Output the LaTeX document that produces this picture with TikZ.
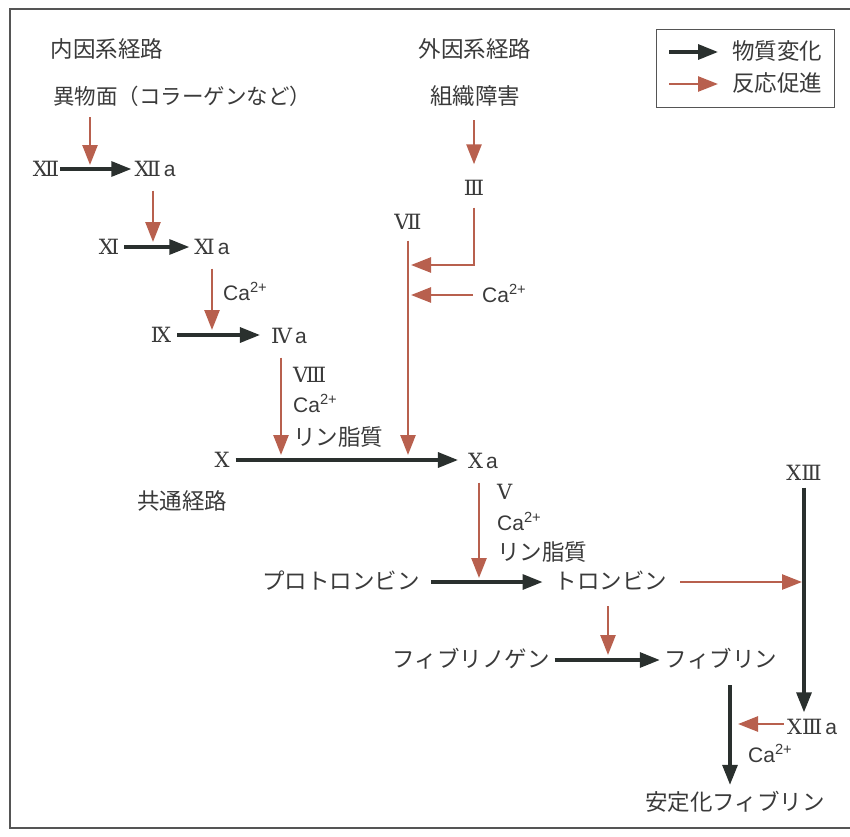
\documentclass[tikz,border=0pt]{standalone}
\usepackage{fontspec}
\setmainfont{Liberation Sans}
\newfontfamily\jpfont{Noto Sans CJK JP}
\newfontfamily\rnfont{DejaVu Serif}
\usetikzlibrary{arrows.meta}
\definecolor{txt}{HTML}{3A3A3A}
\definecolor{blkc}{HTML}{2A302E}
\definecolor{redc}{HTML}{B8604E}
\definecolor{framec}{HTML}{555555}
\newcommand\caion{Ca\textsuperscript{2+}}
\tikzset{
  jp/.style={font=\jpfont\fontsize{22.5}{27}\selectfont, text=txt, inner sep=0pt, text height=17pt, text depth=3pt},
  rn/.style={font=\rnfont\fontsize{21}{25}\selectfont, text=txt, inner sep=0pt, text height=15pt, text depth=0pt},
  lab/.style={font=\fontsize{21}{25}\selectfont, text=txt, inner sep=0pt, anchor=west, text height=15pt, text depth=0pt},
  blkarr/.style={draw=blkc, line width=3.2pt, -{Triangle[length=20pt,width=15pt]}},
  redarr/.style={draw=redc, line width=2.6pt, -{Triangle[length=20pt,width=15pt]}},
}
\begin{document}
\begin{tikzpicture}[x=1pt,y=-1pt]
\useasboundingbox (0,0) rectangle (850,836);
% frame
\draw[framec, line width=1.2pt] (850,9) -- (10,9) -- (10,828) -- (850,828);

% headings
\node[jp] (tin) at (107,50) {内因系経路};
\node[jp, font=\jpfont\fontsize{21.5}{26}\selectfont] (ibutsu) at (182,97) {異物面（コラーゲンなど）};
\node[jp] (tex) at (475,50) {外因系経路};
\node[jp] (soshiki) at (475,97) {組織障害};
\node[jp] (common) at (182,502) {共通経路};

% legend
\node[draw=framec, line width=1pt, minimum width=178pt, minimum height=78pt, inner sep=0pt] (legend) at (745,68) {};
\coordinate (lg1s) at (669,52); \coordinate (lg1e) at (718,52);
\coordinate (lg2s) at (669,84); \coordinate (lg2e) at (718,84);
\draw[blkarr] (lg1s) -- (lg1e);
\draw[redarr] (lg2s) -- (lg2e);
\node[jp, anchor=west] (lgt1) at (732,52) {物質変化};
\node[jp, anchor=west] (lgt2) at (732,84) {反応促進};

% intrinsic numerals
\node[rn] (n12) at (46,169) {Ⅻ};
\node[rn] (n12a) at (155,169) {Ⅻ\hspace{3pt}{\rmfamily a}};
\node[rn] (n11) at (109,247) {Ⅺ};
\node[rn] (n11a) at (212,247) {Ⅺ\hspace{3pt}{\rmfamily a}};
\node[rn] (n9) at (161,335) {Ⅸ};
\node[rn] (n4a) at (289,336) {Ⅳ\hspace{3pt}{\rmfamily a}};
\node[rn] (n10) at (222,460) {Ⅹ};
\node[rn] (n10a) at (483,461) {Ⅹ\hspace{3pt}{\rmfamily a}};
\node[rn] (n7) at (408,222) {Ⅶ};
\node[rn] (n3) at (474,188) {Ⅲ};
\node[rn] (n13) at (804,473) {ⅩⅢ};
\node[rn] (n13a) at (812,727) {ⅩⅢ\hspace{3pt}{\rmfamily a}};

% labels
\node[lab] (ca1) at (223,293) {\caion};
\node[rn, anchor=west] (l8) at (293,375) {Ⅷ};
\node[lab] (ca2) at (293,405) {\caion};
\node[jp, anchor=west] (rin1) at (293,438) {リン脂質};
\node[lab] (ca3) at (482,295) {\caion};
\node[rn, anchor=west] (l5) at (497,492) {Ⅴ};
\node[lab] (ca4) at (497,523) {\caion};
\node[jp, anchor=west] (rin2) at (497,553) {リン脂質};
\node[lab] (ca5) at (748,755) {\caion};

% common pathway
\node[jp] (pro) at (341,582) {プロトロンビン};
\node[jp] (thr) at (611,582) {トロンビン};
\node[jp] (fbg) at (471,660) {フィブリノゲン};
\node[jp] (fb) at (721,660) {フィブリン};
\node[jp] (sfb) at (735,803) {安定化フィブリン};

% target coordinates
\coordinate (c12) at (90,165);
\coordinate (c11) at (153,242);
\coordinate (c9) at (212,330);
\coordinate (c10) at (281,455);
\coordinate (c10b) at (408,455);
\coordinate (c7a) at (411,265);
\coordinate (c7b) at (411,295);
\coordinate (cthr) at (479,578);
\coordinate (c13) at (802,582);
\coordinate (cfb) at (608,655);
\coordinate (cs) at (738,724);

% black conversion arrows
\draw[blkarr, shorten <=1pt, shorten >=3pt] (n12.east) -- (n12.east -| n12a.west);
\draw[blkarr, shorten <=5pt, shorten >=5pt] (n11.east) -- (n11.east -| n11a.west);
\draw[blkarr, shorten <=6pt, shorten >=11pt] (n9.east) -- (n9.east -| n4a.west);
\draw[blkarr, shorten <=6pt, shorten >=10pt] (n10.east) -- (n10.east -| n10a.west);
\draw[blkarr, shorten <=11pt, shorten >=12pt] (pro.east) -- (pro.east -| thr.west);
\draw[blkarr, shorten <=5pt, shorten >=5pt] (fbg.east) -- (fbg.east -| fb.west);
\draw[blkarr, shorten <=7pt, shorten >=7pt] (n13.south) -- (n13.south |- n13a.north);
\draw[blkarr, shorten <=15pt, shorten >=8pt] (fb.south -| 730,0) -- (sfb.north -| 730,0);

% red promotion arrows
\draw[redarr, shorten <=10pt] (ibutsu.south -| c12) -- (c12);
\draw[redarr, shorten <=14pt] (n12a.south -| c11) -- (c11);
\draw[redarr, shorten <=14pt] (n11a.south -| c9) -- (c9);
\draw[redarr, shorten <=14pt] (n4a.south -| c10) -- (c10);
\draw[redarr, shorten <=11pt] (n7.south) -- (c10b);
\draw[redarr, shorten <=13pt, shorten >=16pt] (soshiki.south -| n3) -- (n3.north);
\draw[redarr, shorten <=12pt] (n3.south) |- (c7a);
\draw[redarr, shorten <=9pt] (ca3.west) -- (c7b);
\draw[redarr, shorten <=14pt] (n10a.south -| cthr) -- (cthr);
\draw[redarr, shorten <=13pt] (thr.east) -- (c13);
\draw[redarr, shorten <=14pt] (thr.south -| cfb) -- (cfb);
\draw[redarr, shorten <=3pt] (n13a.west |- cs) -- (cs);
\end{tikzpicture}
\end{document}
